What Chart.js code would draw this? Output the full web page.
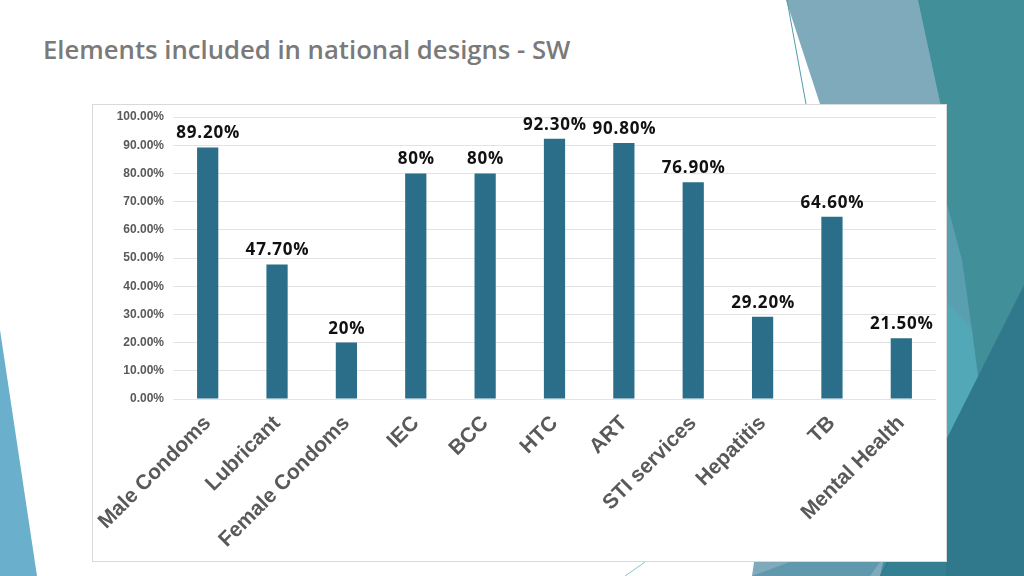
<!DOCTYPE html>
<html>
<head>
<meta charset="utf-8">
<script src="https://cdn.jsdelivr.net/npm/chart.js@4/dist/chart.umd.min.js"></script>
<style>
  html, body { margin: 0; padding: 0; }
  body { width: 1024px; height: 576px; position: relative; overflow: hidden; background: #fff; }
  #bg { position: absolute; left: 0; top: 0; }
  h1 {
    position: absolute; left: 43px; top: 32px; margin: 0;
    font-family: "Open Sans", sans-serif; font-weight: 600; font-size: 25.7px;
    color: #7a7a7a; white-space: nowrap;
  }
  #box {
    position: absolute; left: 92px; top: 104px; width: 853px; height: 456px;
    background: #fff; border: 1px solid #d9d9d9;
  }
</style>
</head>
<body>
<svg id="bg" width="1024" height="576">
  <polygon points="786,0 920,0 946,130 946,576 752,576 820,104" fill="#7faabb"/>
  <polygon points="918,0 1024,0 1024,576 880,576 946,300 946,130" fill="#408f99"/>
  <polygon points="946,200 962,260 972,330 946,330" fill="#5a9fb0"/>
  <polygon points="946,300 972,330 985,430 946,440" fill="#53a8b8"/>
  <polygon points="946,440 1024,285 1024,576 880,576" fill="#30798d"/>
  <polygon points="880,576 946,480 946,576" fill="#357f92"/>
  <polygon points="752,576 790,562 880,562 870,576" fill="#6098ae"/>
  <polygon points="0,330 37,576 0,576" fill="#6aafcb"/>
  <line x1="787" y1="0" x2="806" y2="104" stroke="#4f9cab" stroke-width="1"/>
  <line x1="625" y1="576" x2="645" y2="562" stroke="#8fc3cc" stroke-width="1"/>
</svg>
<h1>Elements included in national designs - SW</h1>
<div id="box"><canvas id="myChart" width="853" height="456"></canvas></div>
<script>
const categories = ['Male Condoms', 'Lubricant', 'Female Condoms', 'IEC', 'BCC', 'HTC', 'ART', 'STI services', 'Hepatitis', 'TB', 'Mental Health']
const values = [89.2, 47.7, 20, 80, 80, 92.3, 90.8, 76.9, 29.2, 64.6, 21.5]
const valueLabels = ['89.20%', '47.70%', '20%', '80%', '80%', '92.30%', '90.80%', '76.90%', '29.20%', '64.60%', '21.50%']

// values written above each bar
const barLabels = {
  id: 'barLabels',
  afterDatasetsDraw(chart) {
    const ctx = chart.ctx
    const bars = chart.getDatasetMeta(0).data
    ctx.save()
    ctx.font = '700 17px "Open Sans"'
    ctx.fillStyle = '#111'
    ctx.textAlign = 'center'
    ctx.textBaseline = 'alphabetic'
    ctx.letterSpacing = '0.8px'
    bars.forEach(function(bar, i) {
      ctx.fillText(valueLabels[i], bar.x + 0.5, bar.y - 9)
    })
    ctx.restore()
  }
}

var ctx = document.getElementById('myChart').getContext('2d')
var chart = new Chart(ctx, {
  type: 'bar',
  data: {
    labels: categories,
    datasets: [{
      data: values,
      backgroundColor: '#2a6e89',
      barPercentage: 0.6,
      categoryPercentage: 0.51
    }]
  },
  options: {
    responsive: false,
    animation: false,
    layout: { padding: { left: 0, right: 10, top: 12, bottom: 0 } },
    plugins: { legend: { display: false }, tooltip: { enabled: false } },
    scales: {
      y: {
        min: 0, max: 100,
        ticks: {
          stepSize: 10,
          padding: 9,
          color: '#595959',
          font: { family: 'Liberation Sans', weight: 'bold', size: 12 },
          callback: function(v) { return v.toFixed(2) + '%' }
        },
        grid: { color: '#e3e3e3', drawTicks: false },
        border: { display: false },
        afterFit: function(scale) {
          scale.width = 80
          scale.paddingTop = 0
          scale.paddingBottom = 0
        }
      },
      x: {
        ticks: {
          minRotation: 45, maxRotation: 45,
          padding: 4,
          color: '#595959',
          font: { family: 'Liberation Sans', weight: 'bold', size: 21 }
        },
        grid: { display: false },
        border: { display: false },
        afterFit: function(scale) { scale.height = 162 }
      }
    }
  },
  plugins: [barLabels]
})
</script>
</body>
</html>
